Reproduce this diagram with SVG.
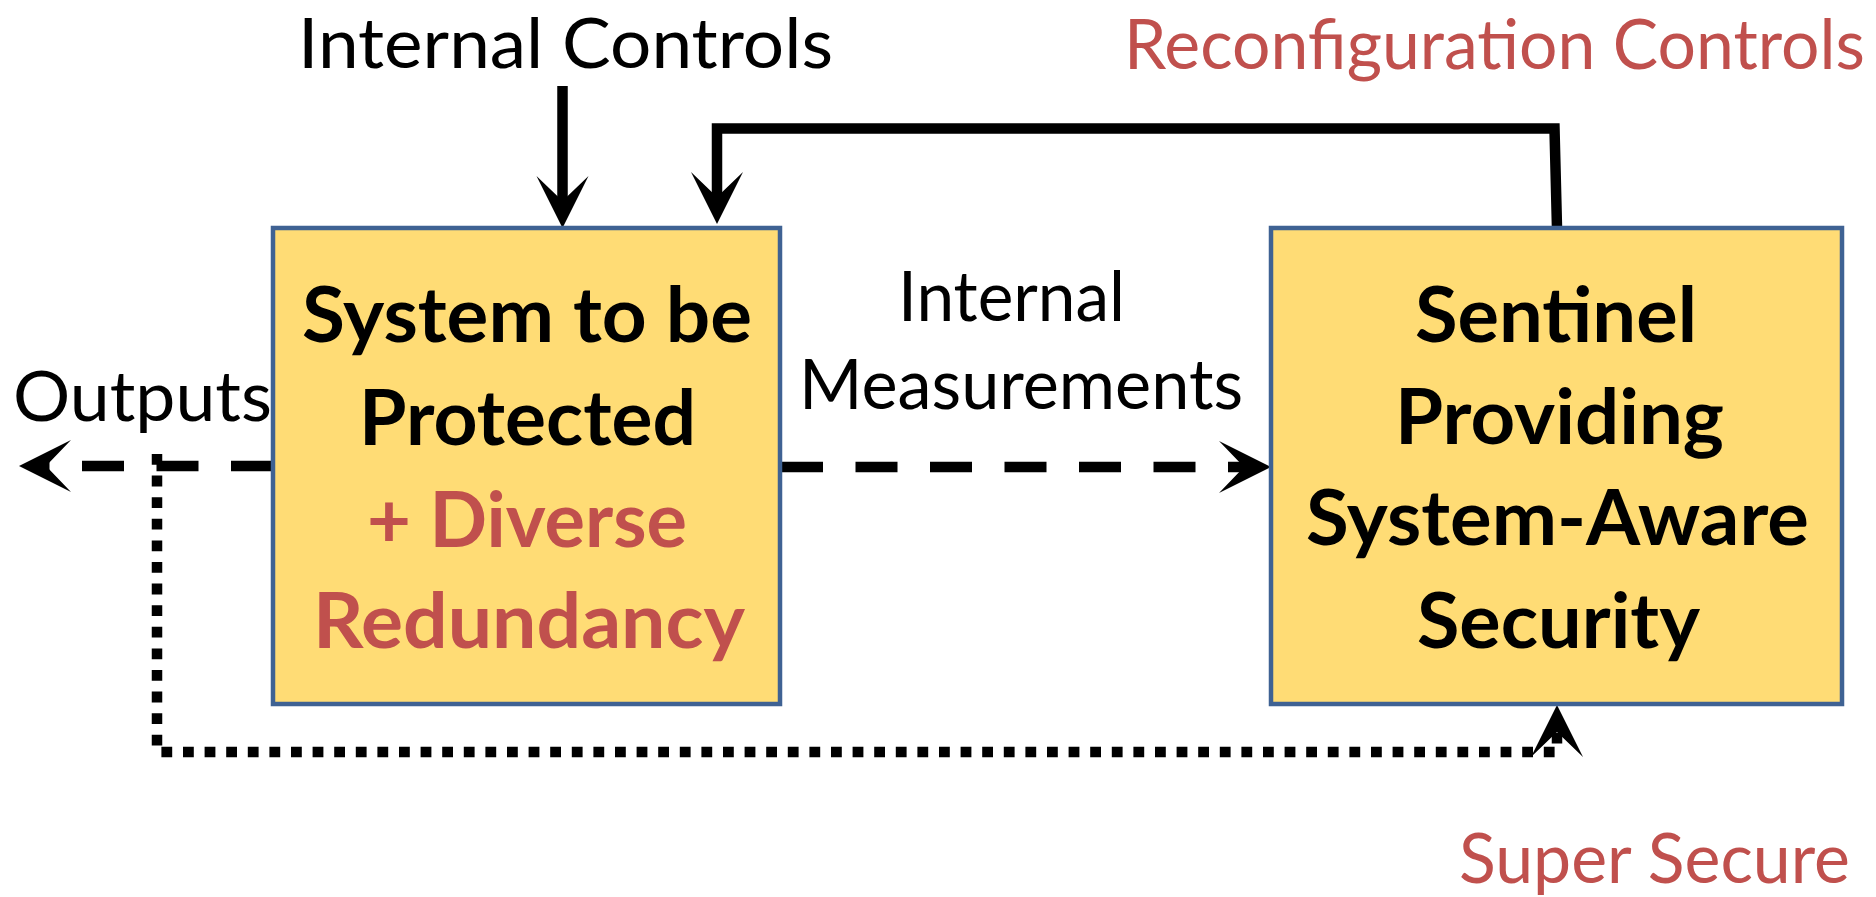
<svg xmlns="http://www.w3.org/2000/svg" width="1876" height="897" viewBox="0 0 1876 897">
<style>
.box{fill:#FFDC75;stroke:#3F6293;stroke-width:4.5}
.lbl{font-family:Lato,"Open Sans","Liberation Sans",sans-serif;font-size:69px;fill:#000}
.bold{font-family:Lato,"Open Sans","Liberation Sans",sans-serif;font-size:77px;font-weight:bold;fill:#000}
.lbl.red,.bold.red{fill:#C0504D}
.ln{fill:none;stroke:#000;stroke-width:10.5;stroke-linecap:butt;stroke-linejoin:miter}
.dash{stroke-dasharray:42 32.5}
.dot{stroke-dasharray:10.8 10.8}
</style>
<defs>
<marker id="arr" markerUnits="userSpaceOnUse" markerWidth="60" markerHeight="60" refX="0" refY="0" orient="auto" overflow="visible">
<path d="M27,0 L-25,-26 L0,0 L-25,26 Z" fill="#000"/>
</marker>
</defs>
<g id="connectors">
<path class="ln" d="M562.5,86 V201" marker-end="url(#arr)"/>
<path class="ln" d="M1557,228 L1554.5,128.5 L717,128.5 V197" marker-end="url(#arr)"/>
<path class="ln dash" d="M781,467 H1244" marker-end="url(#arr)"/>
<path class="ln dash" d="M273,466 H46" marker-end="url(#arr)"/>
<path class="ln dot" d="M157,454 V752 H1557 V732" marker-end="url(#arr)"/>
</g>
<g id="system">
<rect class="box" x="273" y="228" width="507" height="476"/>
<text class="bold" x="302" y="342" textLength="450" lengthAdjust="spacingAndGlyphs">System to be</text>
<text class="bold" x="359" y="445" textLength="337" lengthAdjust="spacingAndGlyphs">Protected</text>
<text class="bold red" x="367" y="547" textLength="320" lengthAdjust="spacingAndGlyphs">+ Diverse</text>
<text class="bold red" x="313" y="648" textLength="432" lengthAdjust="spacingAndGlyphs">Redundancy</text>
</g>
<g id="sentinel">
<rect class="box" x="1271" y="228" width="571" height="476"/>
<text class="bold" x="1415" y="342" textLength="282" lengthAdjust="spacingAndGlyphs">Sentinel</text>
<text class="bold" x="1395" y="444" textLength="329" lengthAdjust="spacingAndGlyphs">Providing</text>
<text class="bold" x="1306" y="545" textLength="503" lengthAdjust="spacingAndGlyphs">System-Aware</text>
<text class="bold" x="1417" y="648" textLength="283" lengthAdjust="spacingAndGlyphs">Security</text>
</g>
<g id="labels">
<text class="lbl" x="298" y="68" textLength="535" lengthAdjust="spacingAndGlyphs">Internal Controls</text>
<text class="lbl red" x="1124" y="69" textLength="741" lengthAdjust="spacingAndGlyphs">Reconfiguration Controls</text>
<text class="lbl" x="13" y="421" textLength="259" lengthAdjust="spacingAndGlyphs">Outputs</text>
<text class="lbl" x="898" y="321" textLength="227" lengthAdjust="spacingAndGlyphs">Internal</text>
<text class="lbl" x="799" y="409" textLength="444" lengthAdjust="spacingAndGlyphs">Measurements</text>
<text class="lbl red" x="1459" y="883" textLength="391" lengthAdjust="spacingAndGlyphs">Super Secure</text>
</g>
</svg>
